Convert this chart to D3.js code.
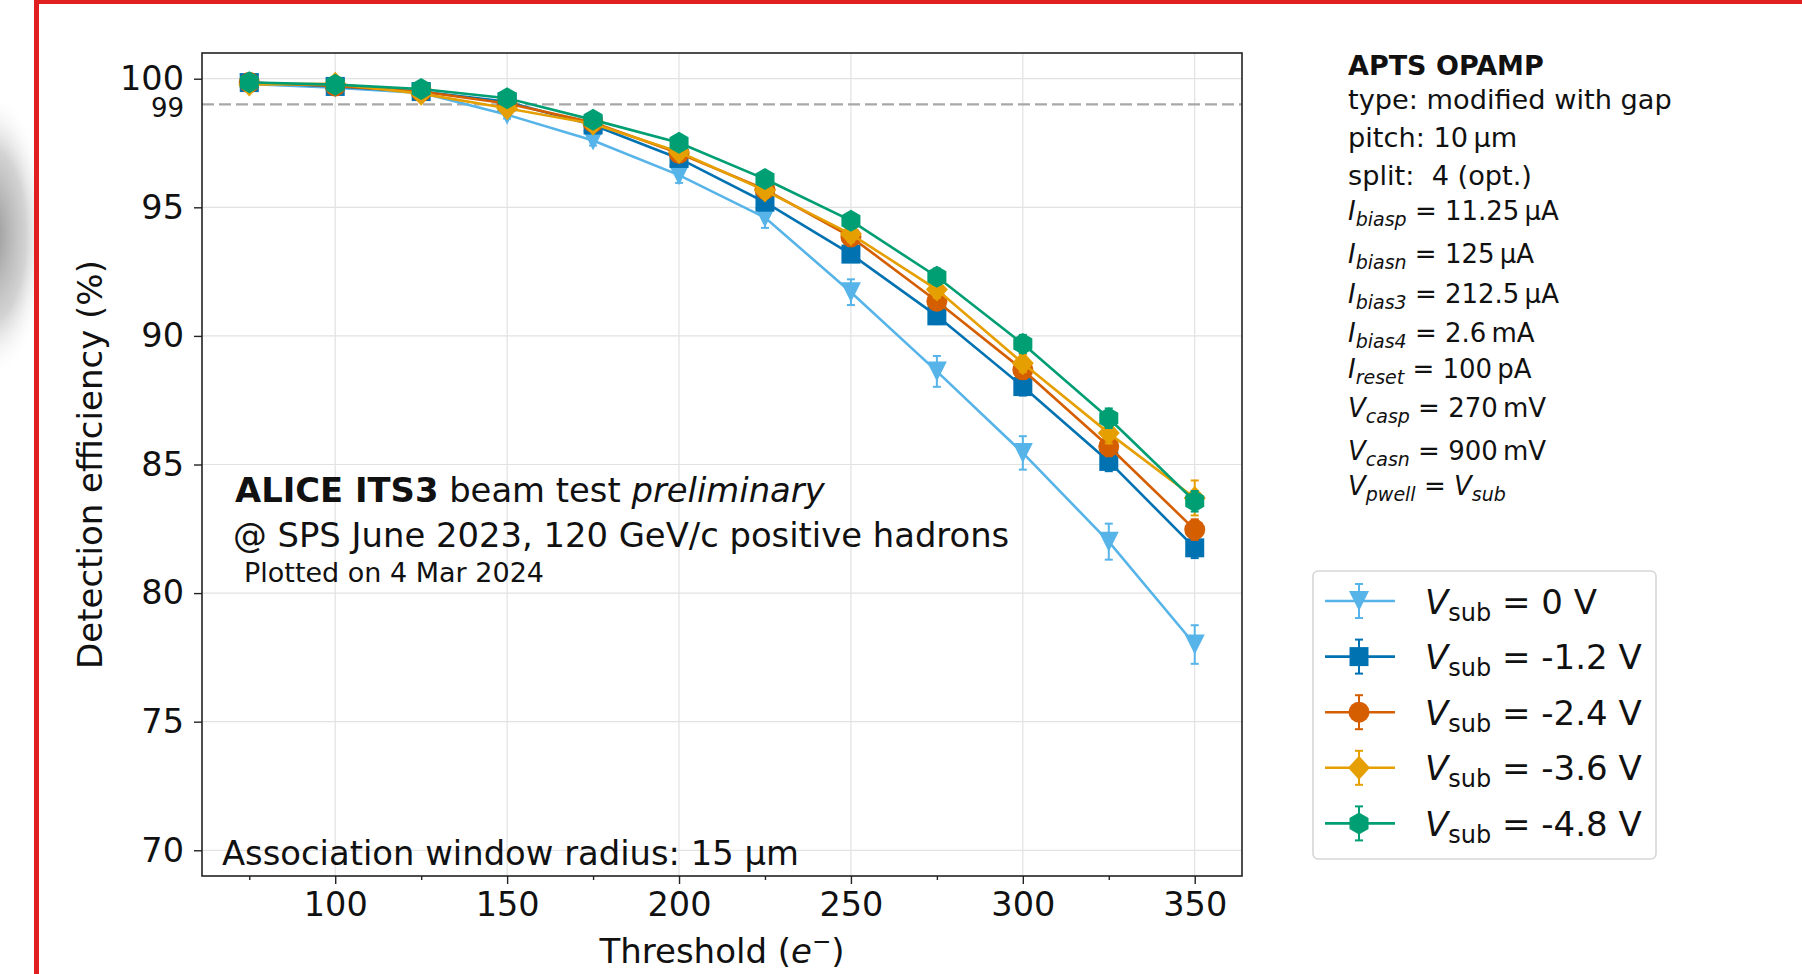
<!DOCTYPE html>
<html>
<head>
<meta charset="utf-8">
<title>APTS OPAMP detection efficiency</title>
<script src="https://d3js.org/d3.v7.min.js"></script>
<style>
  body { margin: 0; background: #fff; }
  svg { display: block; font-family: "DejaVu Sans", sans-serif; }
  text { white-space: pre; }
</style>
</head>
<body>
<script>
// ---- data ----
var thresholds = [75, 100, 125, 150, 175, 200, 225, 250, 275, 300, 325, 350];

var effVsub0  = [99.80, 99.65, 99.45, 98.60, 97.60, 96.25, 94.60, 91.70, 88.62, 85.45, 82.00, 78.00];
var effVsub12 = [99.85, 99.70, 99.50, 99.10, 98.20, 96.90, 95.20, 93.18, 90.78, 88.03, 85.12, 81.76];
var effVsub24 = [99.85, 99.72, 99.50, 99.04, 98.30, 97.10, 95.70, 93.85, 91.35, 88.68, 85.70, 82.47];
var effVsub36 = [99.78, 99.80, 99.42, 98.85, 98.25, 97.15, 95.65, 93.96, 91.80, 88.94, 86.22, 83.70];
var effVsub48 = [99.86, 99.77, 99.60, 99.24, 98.40, 97.51, 96.10, 94.48, 92.30, 89.69, 86.80, 83.57];

var errVsub0  = [0.10, 0.10, 0.10, 0.15, 0.20, 0.30, 0.40, 0.50, 0.60, 0.65, 0.70, 0.75];
var errVsub12 = [0.08, 0.08, 0.10, 0.12, 0.15, 0.20, 0.25, 0.30, 0.32, 0.35, 0.38, 0.40];
var errVsub24 = [0.08, 0.08, 0.10, 0.12, 0.15, 0.20, 0.25, 0.30, 0.32, 0.35, 0.38, 0.40];
var errVsub36 = [0.08, 0.08, 0.10, 0.12, 0.15, 0.20, 0.25, 0.30, 0.32, 0.35, 0.40, 0.68];
var errVsub48 = [0.08, 0.08, 0.10, 0.12, 0.15, 0.20, 0.25, 0.30, 0.32, 0.35, 0.38, 0.40];

var vsubLabels = ["0", "-1.2", "-2.4", "-3.6", "-4.8"];
var vsubColors = ["#56B4E9", "#0072B2", "#D55E00", "#E69F00", "#009E73"];
var vsubMarkers = ["triangleDown", "square", "circle", "diamond", "hexagon"];

var yTicks = [70, 75, 80, 85, 90, 95, 100];
var xTicks = [100, 150, 200, 250, 300, 350];
var xMinorTicks = [75, 125, 175, 225, 275, 325];
var refLine = 99;

var infoTitle = "APTS OPAMP";
var infoPlain = ["type: modified with gap", "pitch: 10\u2009\u00b5m", "split:  4 (opt.)"];
var infoMath = [
  ["I", "biasp", "11.25\u2009\u00b5A"],
  ["I", "biasn", "125\u2009\u00b5A"],
  ["I", "bias3", "212.5\u2009\u00b5A"],
  ["I", "bias4", "2.6\u2009mA"],
  ["I", "reset", "100\u2009pA"],
  ["V", "casp", "270\u2009mV"],
  ["V", "casn", "900\u2009mV"]
];

var series = [effVsub0, effVsub12, effVsub24, effVsub36, effVsub48].map(function(vals, i) {
  var errs = [errVsub0, errVsub12, errVsub24, errVsub36, errVsub48][i];
  return {
    label: vsubLabels[i], color: vsubColors[i], marker: vsubMarkers[i],
    points: thresholds.map(function(t, j) { return { x: t, y: vals[j], e: errs[j] }; })
  };
});

// ---- layout ----
var W = 1802, H = 974;
var margin = { left: 202, top: 53, right: 1242, bottom: 876 };

var svg = d3.select("body").append("svg").attr("width", W).attr("height", H);

// gray smudge and red frame of the screenshot
var defs = svg.append("defs");
var grad = defs.append("radialGradient").attr("id", "smudge");
grad.append("stop").attr("offset", "0%").attr("stop-color", "#8a8a8a").attr("stop-opacity", 0.95);
grad.append("stop").attr("offset", "60%").attr("stop-color", "#b5b5b5").attr("stop-opacity", 0.6);
grad.append("stop").attr("offset", "100%").attr("stop-color", "#ffffff").attr("stop-opacity", 0);
defs.append("clipPath").attr("id", "leftEdge").append("rect").attr("x", 0).attr("y", 0).attr("width", 34).attr("height", H);
defs.append("clipPath").attr("id", "plotArea").append("rect")
  .attr("x", margin.left).attr("y", margin.top)
  .attr("width", margin.right - margin.left).attr("height", margin.bottom - margin.top);

svg.append("ellipse").attr("clip-path", "url(#leftEdge)")
  .attr("cx", -10).attr("cy", 235).attr("rx", 60).attr("ry", 145).attr("fill", "url(#smudge)");
svg.append("rect").attr("x", 34).attr("y", 0).attr("width", 5).attr("height", H).attr("fill", "#e02020");
svg.append("rect").attr("x", 34).attr("y", 0).attr("width", W - 34).attr("height", 4).attr("fill", "#e02020");

var x = d3.scaleLinear().domain([61.25, 363.75]).range([margin.left, margin.right]);
var y = d3.scaleLinear().domain([69, 101]).range([margin.bottom, margin.top]);

// grid
var grid = svg.append("g").attr("stroke", "#e2e2e2").attr("stroke-width", 1.2);
grid.selectAll(".gx").data(xTicks).enter().append("line")
  .attr("x1", function(d) { return x(d); }).attr("x2", function(d) { return x(d); })
  .attr("y1", margin.top).attr("y2", margin.bottom);
grid.selectAll(".gy").data(yTicks).enter().append("line")
  .attr("y1", function(d) { return y(d); }).attr("y2", function(d) { return y(d); })
  .attr("x1", margin.left).attr("x2", margin.right);

// 99% reference line
svg.append("line")
  .attr("x1", margin.left).attr("x2", margin.right)
  .attr("y1", y(refLine)).attr("y2", y(refLine))
  .attr("stroke", "#a8a8a8").attr("stroke-width", 2.2).attr("stroke-dasharray", "12,5");

// markers
function markerPath(type) {
  var p = d3.path();
  if (type === "triangleDown") {
    p.moveTo(-10, -10); p.lineTo(10, -10); p.lineTo(0, 10); p.closePath();
  } else if (type === "square") {
    p.rect(-9.5, -9.5, 19, 19);
  } else if (type === "circle") {
    p.arc(0, 0, 10.5, 0, 2 * Math.PI);
  } else if (type === "diamond") {
    p.moveTo(0, -12); p.lineTo(11, 0); p.lineTo(0, 12); p.lineTo(-11, 0); p.closePath();
  } else {
    for (var k = 0; k < 6; k++) {
      var a = -Math.PI / 2 + k * Math.PI / 3;
      if (k === 0) p.moveTo(11 * Math.cos(a), 11 * Math.sin(a));
      else p.lineTo(11 * Math.cos(a), 11 * Math.sin(a));
    }
    p.closePath();
  }
  return p.toString();
}

var line = d3.line().x(function(d) { return x(d.x); }).y(function(d) { return y(d.y); });

var plot = svg.append("g").attr("clip-path", "url(#plotArea)");
series.forEach(function(s) {
  var g = plot.append("g");
  g.append("path").datum(s.points).attr("d", line)
    .attr("fill", "none").attr("stroke", s.color).attr("stroke-width", 2.6);
  g.selectAll(".eb").data(s.points).enter().append("line")
    .attr("x1", function(d) { return x(d.x); }).attr("x2", function(d) { return x(d.x); })
    .attr("y1", function(d) { return y(d.y - d.e); }).attr("y2", function(d) { return y(d.y + d.e); })
    .attr("stroke", s.color).attr("stroke-width", 2);
  [-1, 1].forEach(function(sg) {
    g.selectAll(".cap").data(s.points).enter().append("line")
      .attr("x1", function(d) { return x(d.x) - 4; }).attr("x2", function(d) { return x(d.x) + 4; })
      .attr("y1", function(d) { return y(d.y + sg * d.e); }).attr("y2", function(d) { return y(d.y + sg * d.e); })
      .attr("stroke", s.color).attr("stroke-width", 2);
  });
  g.selectAll(".mk").data(s.points).enter().append("path")
    .attr("d", markerPath(s.marker))
    .attr("transform", function(d) { return "translate(" + x(d.x) + "," + y(d.y) + ")"; })
    .attr("fill", s.color);
});

// frame
svg.append("rect")
  .attr("x", margin.left).attr("y", margin.top)
  .attr("width", margin.right - margin.left).attr("height", margin.bottom - margin.top)
  .attr("fill", "none").attr("stroke", "#222").attr("stroke-width", 1.6);

// axes
var axisX = svg.append("g").attr("transform", "translate(0," + margin.bottom + ")")
  .call(d3.axisBottom(x).tickValues(xTicks).tickSize(8).tickPadding(7));
svg.append("g").attr("transform", "translate(0," + margin.bottom + ")")
  .call(d3.axisBottom(x).tickValues(xMinorTicks).tickSize(4).tickFormat(""))
  .call(function(g) { g.select(".domain").remove(); });
var axisY = svg.append("g").attr("transform", "translate(" + margin.left + ",0)")
  .call(d3.axisLeft(y).tickValues(yTicks).tickSize(8).tickPadding(10));

svg.selectAll(".domain").remove();
svg.selectAll(".tick line").attr("stroke", "#222").attr("stroke-width", 1.4);
svg.selectAll(".tick text").attr("fill", "#111").style("font-family", "DejaVu Sans").style("font-size", "33.5px");
axisX.selectAll(".tick text").attr("dy", "0.76em");

svg.append("text").attr("x", margin.left - 18).attr("y", y(refLine)).attr("dy", "0.48em")
  .attr("text-anchor", "end").attr("font-size", 26).attr("fill", "#111").text(String(refLine));

// axis titles
var xt = svg.append("text").attr("x", (margin.left + margin.right) / 2).attr("y", 963)
  .attr("text-anchor", "middle").attr("font-size", 34).attr("fill", "#111");
xt.append("tspan").text("Threshold (");
xt.append("tspan").attr("font-style", "italic").text("e");
xt.append("tspan").attr("font-size", 23).attr("dy", -14).text("\u2212");
xt.append("tspan").attr("dy", 14).text(")");

svg.append("text").attr("transform", "translate(102," + (margin.top + margin.bottom) / 2 + ") rotate(-90)")
  .attr("text-anchor", "middle").attr("font-size", 34).attr("fill", "#111")
  .text("Detection efficiency (%)");

// in-plot annotations
var t1 = svg.append("text").attr("x", 235).attr("y", 502).attr("font-size", 33.8).attr("fill", "#111");
t1.append("tspan").attr("font-weight", "bold").text("ALICE ITS3");
t1.append("tspan").text(" beam test ");
t1.append("tspan").attr("font-style", "italic").text("preliminary");
svg.append("text").attr("x", 233).attr("y", 547).attr("font-size", 33.8).attr("fill", "#111")
  .text("@ SPS June 2023, 120 GeV/c positive hadrons");
svg.append("text").attr("x", 244).attr("y", 582).attr("font-size", 27).attr("fill", "#111")
  .text("Plotted on 4 Mar 2024");
svg.append("text").attr("x", 222).attr("y", 865).attr("font-size", 33.8).attr("fill", "#111")
  .text("Association window radius: 15 \u00b5m");

// info block on the right
var infoX = 1348;
var infoBase = [75, 109, 147, 185, 220, 263, 303, 342, 378, 417, 460, 495];
var info = svg.append("g").attr("font-size", 26).attr("fill", "#111");
info.append("text").attr("x", infoX).attr("y", infoBase[0]).attr("font-size", 27).attr("font-weight", "bold").text(infoTitle);
infoPlain.forEach(function(s, i) {
  info.append("text").attr("x", infoX).attr("y", infoBase[i + 1]).attr("font-size", 27.2).text(s);
});
function mathLine(yy, sym, sub, rhs, rhsSub) {
  var t = info.append("text").attr("x", infoX).attr("y", yy);
  t.append("tspan").attr("font-style", "italic").text(sym);
  t.append("tspan").attr("font-style", "italic").attr("font-size", 19).attr("dy", 6).text(sub);
  if (rhsSub) {
    t.append("tspan").attr("dy", -6).text(" = ");
    t.append("tspan").attr("font-style", "italic").text(rhs);
    t.append("tspan").attr("font-style", "italic").attr("font-size", 19).attr("dy", 6).text(rhsSub);
  } else {
    t.append("tspan").attr("dy", -6).text(" = " + rhs);
  }
}
infoMath.forEach(function(m, i) { mathLine(infoBase[i + 4], m[0], m[1], m[2]); });
mathLine(infoBase[11], "V", "pwell", "V", "sub");

// legend
var leg = svg.append("g");
leg.append("rect").attr("x", 1313).attr("y", 571).attr("width", 343).attr("height", 288)
  .attr("rx", 5).attr("fill", "#fff").attr("stroke", "#d6d6d6").attr("stroke-width", 1.6);
series.forEach(function(s, i) {
  var cy = 601 + i * 55.6;
  var g = leg.append("g");
  g.append("line").attr("x1", 1325).attr("x2", 1395).attr("y1", cy).attr("y2", cy)
    .attr("stroke", s.color).attr("stroke-width", 2.6);
  g.append("line").attr("x1", 1359).attr("x2", 1359).attr("y1", cy - 17).attr("y2", cy + 17)
    .attr("stroke", s.color).attr("stroke-width", 2);
  [-17, 17].forEach(function(o) {
    g.append("line").attr("x1", 1355).attr("x2", 1363).attr("y1", cy + o).attr("y2", cy + o)
      .attr("stroke", s.color).attr("stroke-width", 2);
  });
  g.append("path").attr("d", markerPath(s.marker)).attr("transform", "translate(1359," + cy + ")").attr("fill", s.color);
  var t = g.append("text").attr("x", 1425).attr("y", cy + 12.5).attr("font-size", 34).attr("fill", "#111");
  t.append("tspan").attr("font-style", "italic").text("V");
  t.append("tspan").attr("font-size", 24).attr("dy", 7).text("sub");
  t.append("tspan").attr("dy", -7).text(" = " + s.label + " V");
});
</script>
</body>
</html>
